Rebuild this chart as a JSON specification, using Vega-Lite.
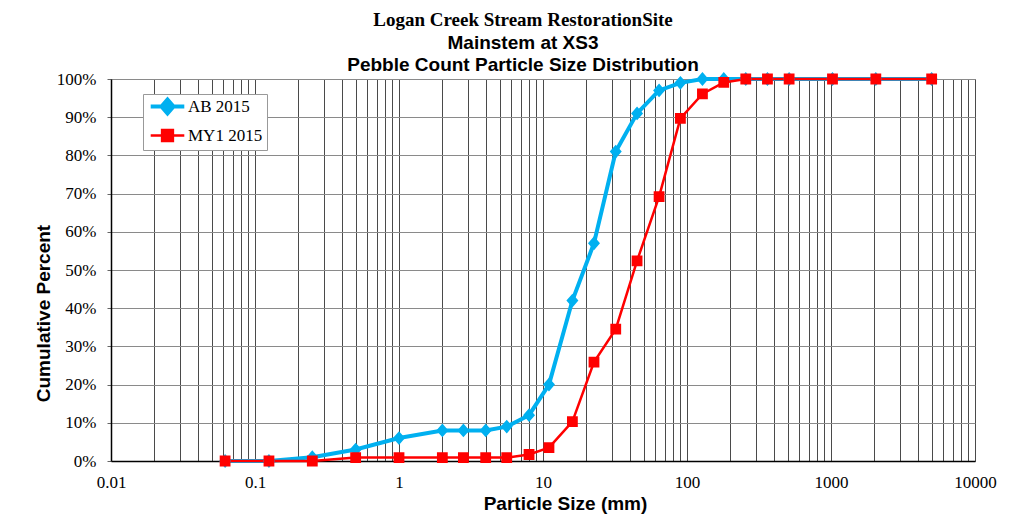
{
  "$schema": "https://vega.github.io/schema/vega-lite/v6.json",
  "width": 864,
  "height": 382,
  "autosize": {"type": "none"},
  "padding": {"left": 111, "top": 79, "right": 35, "bottom": 65},
  "background": "white",
  "title": {
    "text": "Logan Creek Stream RestorationSite",
    "subtitle": ["Mainstem at XS3", "Pebble Count Particle Size Distribution"],
    "font": "Liberation Serif",
    "fontSize": 19,
    "fontWeight": "bold",
    "color": "black",
    "subtitleFont": "Liberation Sans",
    "subtitleFontSize": 19,
    "subtitleFontWeight": "bold",
    "subtitleColor": "black",
    "subtitleLineHeight": 22,
    "subtitlePadding": 4,
    "anchor": "middle",
    "frame": "group",
    "dx": -20,
    "offset": -5
  },
  "config": {
    "view": {"stroke": "#888888", "strokeWidth": 1},
    "axis": {"labelFont": "Liberation Serif", "labelFontSize": 17, "labelColor": "black", "titleFont": "Liberation Sans", "titleFontSize": 19, "titleFontWeight": "bold", "titleColor": "black"}
  },
  "data": {
    "values": [
      {"series": "AB 2015", "size": 0.062, "pct": 0},
      {"series": "AB 2015", "size": 0.125, "pct": 0},
      {"series": "AB 2015", "size": 0.25, "pct": 1},
      {"series": "AB 2015", "size": 0.5, "pct": 3},
      {"series": "AB 2015", "size": 1, "pct": 6},
      {"series": "AB 2015", "size": 2, "pct": 8},
      {"series": "AB 2015", "size": 2.8, "pct": 8},
      {"series": "AB 2015", "size": 4, "pct": 8},
      {"series": "AB 2015", "size": 5.6, "pct": 9},
      {"series": "AB 2015", "size": 8, "pct": 12},
      {"series": "AB 2015", "size": 11, "pct": 20},
      {"series": "AB 2015", "size": 16, "pct": 42},
      {"series": "AB 2015", "size": 22.6, "pct": 57},
      {"series": "AB 2015", "size": 32, "pct": 81},
      {"series": "AB 2015", "size": 45, "pct": 91},
      {"series": "AB 2015", "size": 64, "pct": 97},
      {"series": "AB 2015", "size": 90, "pct": 99},
      {"series": "AB 2015", "size": 128, "pct": 100},
      {"series": "AB 2015", "size": 180, "pct": 100},
      {"series": "AB 2015", "size": 256, "pct": 100},
      {"series": "AB 2015", "size": 362, "pct": 100},
      {"series": "AB 2015", "size": 512, "pct": 100},
      {"series": "AB 2015", "size": 1024, "pct": 100},
      {"series": "AB 2015", "size": 2048, "pct": 100},
      {"series": "AB 2015", "size": 5000, "pct": 100},
      {"series": "MY1 2015", "size": 0.062, "pct": 0},
      {"series": "MY1 2015", "size": 0.125, "pct": 0},
      {"series": "MY1 2015", "size": 0.25, "pct": 0},
      {"series": "MY1 2015", "size": 0.5, "pct": 0.9},
      {"series": "MY1 2015", "size": 1, "pct": 0.9},
      {"series": "MY1 2015", "size": 2, "pct": 0.9},
      {"series": "MY1 2015", "size": 2.8, "pct": 0.9},
      {"series": "MY1 2015", "size": 4, "pct": 0.9},
      {"series": "MY1 2015", "size": 5.6, "pct": 0.9},
      {"series": "MY1 2015", "size": 8, "pct": 1.7},
      {"series": "MY1 2015", "size": 11, "pct": 3.5},
      {"series": "MY1 2015", "size": 16, "pct": 10.3},
      {"series": "MY1 2015", "size": 22.6, "pct": 25.9},
      {"series": "MY1 2015", "size": 32, "pct": 34.5},
      {"series": "MY1 2015", "size": 45, "pct": 52.4},
      {"series": "MY1 2015", "size": 64, "pct": 69.2},
      {"series": "MY1 2015", "size": 90, "pct": 89.7},
      {"series": "MY1 2015", "size": 128, "pct": 96.1},
      {"series": "MY1 2015", "size": 180, "pct": 99.1},
      {"series": "MY1 2015", "size": 256, "pct": 100},
      {"series": "MY1 2015", "size": 362, "pct": 100},
      {"series": "MY1 2015", "size": 512, "pct": 100},
      {"series": "MY1 2015", "size": 1024, "pct": 100},
      {"series": "MY1 2015", "size": 2048, "pct": 100},
      {"series": "MY1 2015", "size": 5000, "pct": 100}
    ]
  },
  "encoding": {
    "x": {
      "field": "size",
      "type": "quantitative",
      "scale": {"type": "log", "domain": [0.01, 10000], "nice": false},
      "axis": {
        "title": "Particle Size (mm)",
        "values": [0.01,0.02,0.03,0.04,0.05,0.06,0.07,0.08,0.09,0.1,0.2,0.3,0.4,0.5,0.6,0.7,0.8,0.9,1,2,3,4,5,6,7,8,9,10,20,30,40,50,60,70,80,90,100,200,300,400,500,600,700,800,900,1000,2000,3000,4000,5000,6000,7000,8000,9000,10000],
        "format": "~g",
        "labelExpr": "abs(log(datum.value)/LN10 - round(log(datum.value)/LN10)) < 0.000001 ? datum.label : ''",
        "labelOverlap": false,
        "labelFlush": false,
        "labelBound": false,
        "labelBaseline": "alphabetic",
        "labelPadding": 26,
        "ticks": false,
        "tickSize": 0,
        "grid": true,
        "gridColor": "#4a4a4a",
        "gridWidth": 1,
        "gridOpacity": 1,
        "domainColor": "black",
        "domainWidth": 1.5,
        "titleX": 454,
        "titleY": 48,
        "titleAlign": "center",
        "titleBaseline": "alphabetic"
      }
    },
    "y": {
      "field": "pct",
      "type": "quantitative",
      "scale": {"domain": [0, 100], "nice": false},
      "axis": {
        "title": "Cumulative Percent",
        "values": [0,10,20,30,40,50,60,70,80,90,100],
        "labelExpr": "datum.value + '%'",
        "labelFlush": false,
        "tickSize": 4,
        "tickColor": "#666666",
        "labelPadding": 11,
        "grid": true,
        "gridColor": "#8a8a8a",
        "gridOpacity": 1,
        "domainColor": "black",
        "domainWidth": 1.5,
        "titleX": -62,
        "titleY": 234,
        "titleAlign": "center",
        "titleBaseline": "alphabetic"
      }
    },
    "color": {
      "field": "series",
      "type": "nominal",
      "scale": {"domain": ["AB 2015", "MY1 2015"], "range": ["#00B0F0", "#FF0000"]},
      "legend": {
        "title": null,
        "orient": "none",
        "legendX": 32,
        "legendY": 15,
        "padding": 4,
        "rowPadding": 3,
        "strokeColor": "#999999",
        "fillColor": "white",
        "labelFont": "Liberation Serif",
        "labelFontSize": 17,
        "labelColor": "black",
        "symbolSize": 144,
        "symbolOffset": 12,
        "labelOffset": 12,
        "encode": {
          "symbols": {
            "update": {
              "shape": {"scale": "shape", "field": "value"},
              "fill": {"scale": "color", "field": "value"},
              "stroke": {"scale": "color", "field": "value"},
              "strokeWidth": {"value": 3},
              "opacity": {"value": 1}
            }
          }
        }
      }
    }
  },
  "layer": [
    {
      "mark": {"type": "line"},
      "encoding": {
        "strokeWidth": {"field": "series", "type": "nominal", "scale": {"domain": ["AB 2015", "MY1 2015"], "range": [4, 2.5]}, "legend": null}
      }
    },
    {
      "mark": {"type": "point", "filled": true, "size": 144, "opacity": 1},
      "encoding": {
        "shape": {
          "field": "series",
          "type": "nominal",
          "scale": {"domain": ["AB 2015", "MY1 2015"], "range": ["M-2.8,0H2.8M0,-1.15L1,0L0,1.15L-1,0Z", "M-2.8,0H2.8M-0.9,-0.9H0.9V0.9H-0.9Z"]},
          "legend": null
        }
      }
    }
  ]
}
